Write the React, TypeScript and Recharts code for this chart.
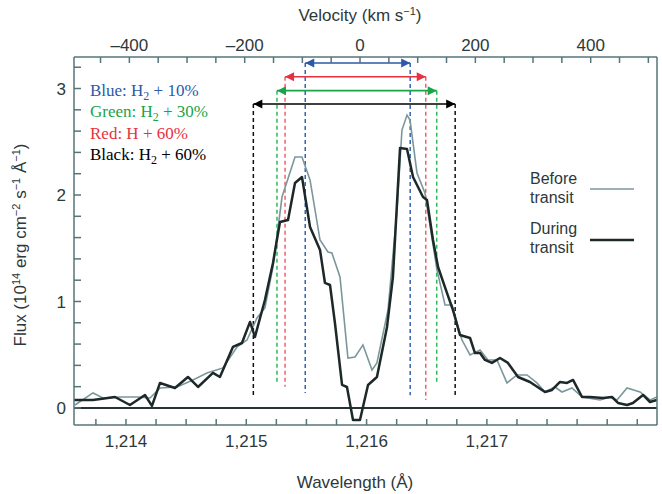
import React from "react";
import { LineChart, Line, XAxis, YAxis, ReferenceLine } from "recharts";

// Lyman-alpha profile of HD 209458, flux in 1e-14 erg cm-2 s-1 A-1
const duringWavelength = [
  1213.568, 1213.726, 1213.909, 1214.033, 1214.158, 1214.216, 1214.283, 1214.407,
  1214.515, 1214.599, 1214.723, 1214.781, 1214.889, 1214.964, 1215.031, 1215.072,
  1215.155, 1215.222, 1215.28, 1215.347, 1215.405, 1215.463, 1215.53, 1215.613,
  1215.654, 1215.696, 1215.737, 1215.796, 1215.837, 1215.887, 1215.945, 1216.012,
  1216.086, 1216.17, 1216.219, 1216.278, 1216.336, 1216.386, 1216.469, 1216.502,
  1216.552, 1216.594, 1216.668, 1216.718, 1216.776, 1216.86, 1216.901, 1216.943,
  1216.984, 1217.042, 1217.109, 1217.175, 1217.259, 1217.358, 1217.483, 1217.541,
  1217.608, 1217.666, 1217.716, 1217.791, 1217.857, 1217.965, 1218.04, 1218.09,
  1218.165, 1218.214, 1218.298, 1218.356, 1218.414,
];
const duringFlux = [
  0.075, 0.075, 0.103, 0.028, 0.122, 0.019, 0.235, 0.188,
  0.291, 0.197, 0.329, 0.291, 0.573, 0.61, 0.808, 0.667,
  1.014, 1.362, 1.746, 1.765, 2.113, 2.169, 1.7, 1.484,
  1.174, 1.155, 0.798, 0.216, 0.197, -0.113, -0.113, 0.216,
  0.291, 0.761, 1.23, 2.441, 2.432, 2.169, 1.981, 1.953,
  1.577, 1.324, 1.08, 0.92, 0.685, 0.657, 0.516, 0.516,
  0.451, 0.423, 0.469, 0.423, 0.291, 0.244, 0.15, 0.169,
  0.244, 0.235, 0.263, 0.103, 0.103, 0.094, 0.103, 0.047,
  0.028, 0.047, 0.122, 0.056, 0.075,
];

const beforeWavelength = [
  1213.576, 1213.726, 1213.809, 1213.95, 1214.091, 1214.2, 1214.283, 1214.424,
  1214.557, 1214.673, 1214.806, 1214.923, 1215.006, 1215.089, 1215.155, 1215.222,
  1215.297, 1215.405, 1215.463, 1215.53, 1215.613, 1215.679, 1215.712, 1215.779,
  1215.845, 1215.904, 1215.97, 1216.045, 1216.086, 1216.178, 1216.253, 1216.294,
  1216.336, 1216.361, 1216.419, 1216.485, 1216.585, 1216.652, 1216.71, 1216.793,
  1216.86, 1216.943, 1217.009, 1217.084, 1217.167, 1217.25, 1217.333, 1217.416,
  1217.483, 1217.566, 1217.624, 1217.707, 1217.791, 1217.94, 1218.023, 1218.081,
  1218.165, 1218.273, 1218.356, 1218.414,
];
const beforeFlux = [
  0.028, 0.141, 0.094, 0.103, 0.103, 0.094, 0.188, 0.197,
  0.263, 0.329, 0.376, 0.573, 0.638, 0.845, 0.939, 1.324,
  1.981, 2.357, 2.357, 2.141, 1.577, 1.465, 1.455, 1.23,
  0.469, 0.479, 0.592, 0.357, 0.423, 0.92, 1.859, 2.61,
  2.751, 2.704, 2.207, 2.019, 1.296, 0.967, 0.967, 0.638,
  0.498, 0.545, 0.451, 0.451, 0.235, 0.31, 0.31, 0.235,
  0.15, 0.197, 0.15, 0.188, 0.103, 0.075, 0.103, 0.075,
  0.188, 0.15, 0.075, 0.103,
];

const velocityTicks = [
  -450, -400, -350, -300, -250, -200, -150, -100, -50, 0, 50, 100, 150, 200, 250,
  300, 350, 400, 450, 500,
];
const velocityLabels = [-400, -200, 0, 200, 400];
const wavelengthTicks = [
  1213.75, 1214, 1214.25, 1214.5, 1214.75, 1215, 1215.25, 1215.5, 1215.75, 1216,
  1216.25, 1216.5, 1216.75, 1217, 1217.25, 1217.5, 1217.75, 1218, 1218.25,
];
const wavelengthLabels = [1214, 1215, 1216, 1217];
const fluxTicks = [0, 0.2, 0.4, 0.6, 0.8, 1, 1.2, 1.4, 1.6, 1.8, 2, 2.2, 2.4, 2.6, 2.8, 3, 3.2];
const fluxLabels = [0, 1, 2, 3];

// velocity windows (km/s) of each absorption model
const windowNames = ["blue", "red", "green", "black"];
const windowLow = [-95, -130, -144, -185];
const windowHigh = [87, 114, 133, 165];
const windowArrowFlux = [3.24, 3.11, 2.98, 2.855];
const windowFootLow = [0.14, 0.2, 0.22, 0.095];
const windowFootHigh = [0.12, 0.075, 0.22, 0.095];

const before = beforeWavelength.map((w, i) => ({ w, f: beforeFlux[i] }));
const during = duringWavelength.map((w, i) => ({ w, f: duringFlux[i] }));
const windows = windowNames.map((name, i) => ({
  name,
  low: [
    { v: windowLow[i], f: windowArrowFlux[i] },
    { v: windowLow[i], f: windowFootLow[i] },
  ],
  high: [
    { v: windowHigh[i], f: windowArrowFlux[i] },
    { v: windowHigh[i], f: windowFootHigh[i] },
  ],
  arrow: [
    { v: windowLow[i], f: windowArrowFlux[i] },
    { v: windowHigh[i], f: windowArrowFlux[i] },
  ],
}));

const windowColor: Record<string, { arrow: string; dash: string }> = {
  blue: { arrow: "#2a5aa8", dash: "#3563b4" },
  red: { arrow: "#e8313f", dash: "#f0606c" },
  green: { arrow: "#17a548", dash: "#2cbb5a" },
  black: { arrow: "#000000", dash: "#111111" },
};

const AXIS = "#56747a";
const TEXT = "#2e383a";
const SANS = "'Liberation Sans', Arial, Helvetica, sans-serif";
const SERIF = "'Liberation Serif', 'Times New Roman', serif";

// arrow head at each end of the window bar
const arrowHead = (color: string) => (props: any) => {
  const { cx, cy, index } = props;
  const h = 9;
  const w = 4.5;
  const d = index === 0 ? 1 : -1;
  return (
    <polygon
      key={"ah" + index}
      points={`${cx},${cy} ${cx + d * h},${cy - w} ${cx + d * h},${cy + w}`}
      fill={color}
    />
  );
};

const fmtVel = (v: number) =>
  velocityLabels.includes(v) ? (v < 0 ? "\u2013" + Math.abs(v) : String(v)) : "";
const fmtWave = (v: number) =>
  wavelengthLabels.includes(v) ? v.toLocaleString("en-US") : "";
const fmtFlux = (v: number) => (fluxLabels.includes(v) ? String(v) : "");

const tickStyle = { fontSize: 17, fill: TEXT, fontFamily: SANS };

export default function App() {
  return (
    <div
      style={{
        position: "absolute",
        left: 0,
        top: 0,
        width: 662,
        height: 494,
        overflow: "hidden",
        background: "#fff",
      }}
    >
      <LineChart
        width={662}
        height={494}
        margin={{ top: 27, right: 4, bottom: 39, left: 34 }}
        style={{ position: "absolute", left: 0, top: 0 }}
      >
        <XAxis
          xAxisId="wave"
          type="number"
          dataKey="w"
          orientation="bottom"
          domain={[1213.568, 1218.414]}
          allowDataOverflow
          ticks={wavelengthTicks}
          interval={0}
          tickFormatter={fmtWave}
          tick={tickStyle}
          tickSize={-6}
          tickMargin={16}
          height={30}
          stroke={AXIS}
          strokeWidth={1.5}
        />
        <XAxis
          xAxisId="vel"
          type="number"
          dataKey="v"
          orientation="top"
          domain={[-496, 515]}
          allowDataOverflow
          ticks={velocityTicks}
          interval={0}
          tickFormatter={fmtVel}
          tick={tickStyle}
          tickSize={-6}
          tickMargin={12}
          height={30}
          stroke={AXIS}
          strokeWidth={1.5}
        />
        <YAxis
          yAxisId="left"
          type="number"
          domain={[-0.16, 3.296]}
          allowDataOverflow
          ticks={fluxTicks}
          interval={0}
          tickFormatter={fmtFlux}
          tick={tickStyle}
          tickSize={-7}
          tickMargin={15}
          width={40}
          stroke={AXIS}
          strokeWidth={1.5}
        />
        <YAxis
          yAxisId="right"
          orientation="right"
          type="number"
          domain={[-0.16, 3.296]}
          allowDataOverflow
          ticks={fluxTicks}
          interval={0}
          tick={false}
          tickSize={-7}
          width={1}
          stroke={AXIS}
          strokeWidth={1.5}
        />

        <ReferenceLine xAxisId="wave" yAxisId="left" y={0} stroke="#263233" strokeWidth={2} />

        {windows.map((win) => (
          <Line
            key={win.name + "-lo"}
            data={win.low}
            xAxisId="vel"
            yAxisId="right"
            dataKey="f"
            type="linear"
            stroke={windowColor[win.name].dash}
            strokeWidth={1.5}
            strokeDasharray="4 3"
            dot={false}
            activeDot={false}
            legendType="none"
            isAnimationActive={false}
          />
        ))}
        {windows.map((win) => (
          <Line
            key={win.name + "-hi"}
            data={win.high}
            xAxisId="vel"
            yAxisId="right"
            dataKey="f"
            type="linear"
            stroke={windowColor[win.name].dash}
            strokeWidth={1.5}
            strokeDasharray="4 3"
            dot={false}
            activeDot={false}
            legendType="none"
            isAnimationActive={false}
          />
        ))}
        {windows.map((win) => (
          <Line
            key={win.name + "-arrow"}
            data={win.arrow}
            xAxisId="vel"
            yAxisId="right"
            dataKey="f"
            type="linear"
            stroke={windowColor[win.name].arrow}
            strokeWidth={1.6}
            dot={arrowHead(windowColor[win.name].arrow)}
            activeDot={false}
            legendType="none"
            isAnimationActive={false}
          />
        ))}

        <Line
          name="Before transit"
          data={before}
          xAxisId="wave"
          yAxisId="left"
          dataKey="f"
          type="linear"
          stroke="#7b979c"
          strokeWidth={1.6}
          dot={false}
          activeDot={false}
          isAnimationActive={false}
        />
        <Line
          name="During transit"
          data={during}
          xAxisId="wave"
          yAxisId="left"
          dataKey="f"
          type="linear"
          stroke="#1d2829"
          strokeWidth={2.5}
          strokeLinejoin="round"
          dot={false}
          activeDot={false}
          isAnimationActive={false}
        />
      </LineChart>

      <svg
        width={662}
        height={494}
        style={{ position: "absolute", left: 0, top: 0, pointerEvents: "none" }}
      >
        <g fontFamily={SANS} fontSize={17} fill={TEXT}>
          <text x={360} y={21} textAnchor="middle">
            Velocity (km s<tspan dy={-6} fontSize={11}>{"\u22121"}</tspan>
            <tspan dy={6}>)</tspan>
          </text>
          <text x={355} y={488} textAnchor="middle">
            Wavelength (Å)
          </text>
          <text x={26} y={245} textAnchor="middle" transform="rotate(-90 26 245)">
            Flux (10<tspan dy={-6} fontSize={11}>14</tspan>
            <tspan dy={6}> erg cm</tspan>
            <tspan dy={-6} fontSize={11}>{"\u22122"}</tspan>
            <tspan dy={6}> s</tspan>
            <tspan dy={-6} fontSize={11}>{"\u22121"}</tspan>
            <tspan dy={6}> Å</tspan>
            <tspan dy={-6} fontSize={11}>{"\u22121"}</tspan>
            <tspan dy={6}>)</tspan>
          </text>
        </g>
        <g fontFamily={SANS} fontSize={16} fill={TEXT}>
          <text x={530} y={184}>Before</text>
          <text x={530} y={202.5}>transit</text>
          <text x={530} y={234}>During</text>
          <text x={530} y={252.5}>transit</text>
        </g>
        <line x1={590} y1={189} x2={634} y2={189} stroke="#7b979c" strokeWidth={1.6} />
        <line x1={590} y1={240} x2={634} y2={240} stroke="#1d2829" strokeWidth={2.5} />

        <g fontFamily={SERIF} fontSize={17}>
          <text x={90} y={96} fill="#2a5aa8">
            Blue: H<tspan dy={4} fontSize={12}>2</tspan>
            <tspan dy={-4}> + 10%</tspan>
          </text>
          <text x={90} y={117} fill="#17a548">
            Green: H<tspan dy={4} fontSize={12}>2</tspan>
            <tspan dy={-4}> + 30%</tspan>
          </text>
          <text x={90} y={139} fill="#e8313f">
            Red: H + 60%
          </text>
          <text x={90} y={160} fill="#000">
            Black: H<tspan dy={4} fontSize={12}>2</tspan>
            <tspan dy={-4}> + 60%</tspan>
          </text>
        </g>
      </svg>
    </div>
  );
}
